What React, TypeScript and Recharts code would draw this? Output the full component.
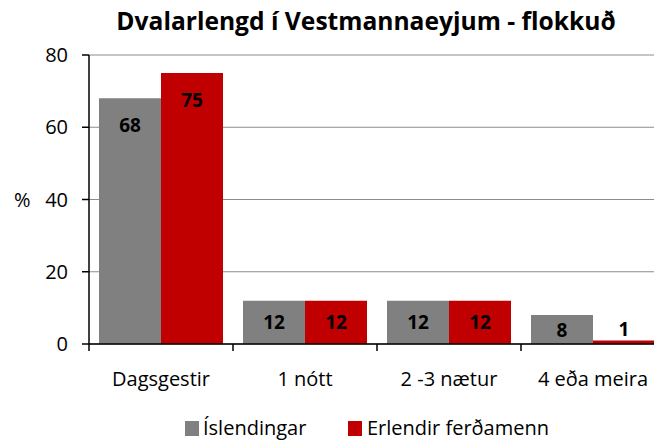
import React from 'react';
import { BarChart, Bar, XAxis, YAxis, CartesianGrid, LabelList } from 'recharts';

const categories = ['Dagsgestir', '1 nótt', '2 -3 nætur', '4 eða meira'];
const islendingar = [68, 12, 12, 8];
const erlendir = [75, 12, 12, 1];
const yTicks = [0, 20, 40, 60, 80];
const seriesNames = ['Íslendingar', 'Erlendir ferðamenn'];
const seriesColors = ['#808080', '#C00000'];
const title = 'Dvalarlengd í Vestmannaeyjum - flokkuð';
const yUnit = '%';

const data = categories.map((c, i) => ({ name: c, isl: islendingar[i], erl: erlendir[i] }));

const FONT = "'Open Sans', 'Noto Sans', sans-serif";
const CHART_W = 680;
const CHART_H = 442;
const MARGIN = { top: 55, right: 15, bottom: 38, left: 0 };
const YW = 89;
const plotW = CHART_W - MARGIN.left - MARGIN.right - YW;
const halfBand = plotW / categories.length / 2;

const XTick = (props: any) => {
  const { x, y, payload } = props;
  return (
    <g>
      <line x1={x - halfBand} x2={x - halfBand} y1={y} y2={y + 7} stroke="#000" strokeWidth={1.5} />
      <text x={x} y={y + 34} textAnchor="middle" dominantBaseline="central" fontSize={20} fill="#000" fontFamily={FONT}>
        {payload.value}
      </text>
    </g>
  );
};

const BarLabel = (props: any) => {
  const { x, y, width, height, value } = props;
  const h = Number(height);
  const cy = h < 12 ? Number(y) - 11 : Number(y) + Math.min(27, h * 0.5);
  return (
    <text x={Number(x) + Number(width) / 2} y={cy} textAnchor="middle" dominantBaseline="central"
      fontWeight="bold" fontSize={19} fill="#000" fontFamily={FONT}>
      {value}
    </text>
  );
};

export default function App() {
  return (
    <div style={{ position: 'absolute', left: 0, top: 0, width: 654, height: 442, overflow: 'hidden', background: '#fff', fontFamily: FONT }}>
      <div style={{ position: 'absolute', left: 0, top: 4, width: 732, textAlign: 'center', fontSize: 24.6, lineHeight: '34px', fontWeight: 'bold', color: '#000', whiteSpace: 'nowrap' }}>
        {title}
      </div>
      <BarChart width={CHART_W} height={CHART_H} data={data} margin={MARGIN} barCategoryGap={10} barGap={0}>
        <CartesianGrid vertical={false} stroke="#8c8c8c" strokeWidth={1} />
        <XAxis dataKey="name" height={60} tickLine={false} tickSize={0} tickMargin={0}
          axisLine={{ stroke: '#000', strokeWidth: 1.5 }} tick={<XTick />} interval={0} />
        <YAxis width={YW} domain={[0, 80]} ticks={yTicks} interval={0} tickSize={7} tickMargin={14}
          axisLine={{ stroke: '#000', strokeWidth: 1.5 }} tickLine={{ stroke: '#000', strokeWidth: 1.5 }}
          tick={{ fontSize: 20, fill: '#000', fontFamily: FONT }}
          label={{ value: yUnit, position: 'insideLeft', offset: 14, fontSize: 20, fill: '#000', fontFamily: FONT }} />
        <Bar dataKey="isl" name={seriesNames[0]} fill={seriesColors[0]} isAnimationActive={false}>
          <LabelList dataKey="isl" content={<BarLabel />} />
        </Bar>
        <Bar dataKey="erl" name={seriesNames[1]} fill={seriesColors[1]} isAnimationActive={false}>
          <LabelList dataKey="erl" content={<BarLabel />} />
        </Bar>
      </BarChart>
      <div style={{ position: 'absolute', left: 185, top: 421, width: 14, height: 15, background: seriesColors[0] }} />
      <div style={{ position: 'absolute', left: 203, top: 414, fontSize: 20, lineHeight: '28px', color: '#000', whiteSpace: 'nowrap' }}>{seriesNames[0]}</div>
      <div style={{ position: 'absolute', left: 348, top: 421, width: 14, height: 15, background: seriesColors[1] }} />
      <div style={{ position: 'absolute', left: 367, top: 414, fontSize: 20, lineHeight: '28px', color: '#000', whiteSpace: 'nowrap' }}>{seriesNames[1]}</div>
    </div>
  );
}
